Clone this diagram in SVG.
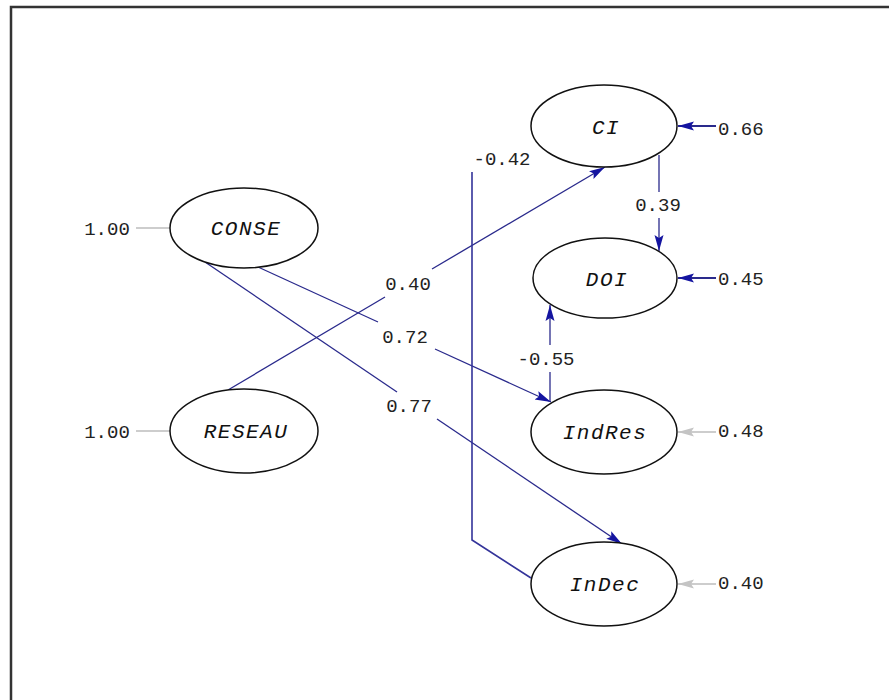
<svg xmlns="http://www.w3.org/2000/svg" width="889" height="700" viewBox="0 0 889 700">
<style>
.node ellipse{fill:#fff;stroke:#111;stroke-width:1.5}
.nl{font-family:"Liberation Mono",monospace;font-style:italic;font-size:21px;letter-spacing:1.5px;fill:#111;text-anchor:middle}
.num{font-family:"Liberation Mono",monospace;font-size:19px;fill:#222}
.mid{text-anchor:middle}
.path{stroke:#2a2a8c;stroke-width:1.3;fill:none}
.grey{stroke:#bdbdbd;stroke-width:1.5;fill:none}
</style>
<defs>
<marker id="ab" markerUnits="userSpaceOnUse" markerWidth="18" markerHeight="12" refX="16" refY="5" orient="auto">
<path d="M0,0.5 L16,5 L0,9.5 L3,5 z" fill="#1414a0"/>
</marker>
<marker id="ag" markerUnits="userSpaceOnUse" markerWidth="18" markerHeight="12" refX="16" refY="5" orient="auto">
<path d="M0,0.5 L16,5 L0,9.5 L3,5 z" fill="#c4c4c4"/>
</marker>
</defs>
<rect width="889" height="700" fill="#fff"/>
<path d="M11,700 V7 H889" fill="none" stroke="#333" stroke-width="2.5"/>

<g id="connectors">
<line class="grey" x1="136" y1="228" x2="170" y2="228" stroke="#aaa"/>
<line class="grey" x1="136" y1="431" x2="170" y2="431"/>
<line class="path" x1="228" y1="390" x2="385" y2="297"/>
<line class="path" x1="432" y1="269" x2="605" y2="167" marker-end="url(#ab)"/>
<line class="path" x1="258" y1="267" x2="378" y2="322"/>
<line class="path" x1="435" y1="349" x2="551" y2="402" marker-end="url(#ab)"/>
<line class="path" x1="205" y1="262" x2="397" y2="392"/>
<line class="path" x1="437" y1="419" x2="622" y2="544" marker-end="url(#ab)"/>
<line class="path" x1="659" y1="155" x2="659" y2="192"/>
<line class="path" x1="659" y1="218" x2="659" y2="251" marker-end="url(#ab)"/>
<line class="path" x1="550" y1="402" x2="550" y2="372"/>
<line class="path" x1="550" y1="345" x2="550" y2="305" marker-end="url(#ab)"/>
<polyline class="path" points="472,172 472,540 531,578" style="stroke:#34349a;stroke-width:1.6"/>
<line class="path" x1="716" y1="126" x2="678" y2="126" marker-end="url(#ab)" style="stroke-width:2"/>
<line class="path" x1="716" y1="278" x2="678" y2="278" marker-end="url(#ab)" style="stroke-width:2"/>
<line class="grey" x1="716" y1="432" x2="678" y2="432" marker-end="url(#ag)"/>
<line class="grey" x1="716" y1="584" x2="678" y2="584" marker-end="url(#ag)"/>
<text class="num mid" x="408" y="290">0.40</text>
<text class="num mid" x="405" y="343">0.72</text>
<text class="num mid" x="409" y="412">0.77</text>
<text class="num mid" x="502" y="165">-0.42</text>
<text class="num mid" x="658" y="211">0.39</text>
<text class="num mid" x="546" y="365">-0.55</text>
<text class="num" x="718" y="135">0.66</text>
<text class="num" x="718" y="285">0.45</text>
<text class="num" x="718" y="437">0.48</text>
<text class="num" x="718" y="589">0.40</text>
<text class="num mid" x="107" y="235">1.00</text>
<text class="num mid" x="107" y="438">1.00</text>
</g>

<g id="CONSE" class="node"><ellipse cx="244" cy="228" rx="74" ry="40"/><text class="nl" x="246" y="235">CONSE</text></g>
<g id="RESEAU" class="node"><ellipse cx="244" cy="431" rx="74" ry="42"/><text class="nl" x="246" y="438">RESEAU</text></g>
<g id="CI" class="node"><ellipse cx="604" cy="126" rx="73" ry="41"/><text class="nl" x="606" y="134">CI</text></g>
<g id="DOI" class="node"><ellipse cx="605" cy="278" rx="72" ry="40"/><text class="nl" x="607" y="286">DOI</text></g>
<g id="IndRes" class="node"><ellipse cx="604" cy="432" rx="73" ry="42"/><text class="nl" x="605" y="439">IndRes</text></g>
<g id="InDec" class="node"><ellipse cx="604" cy="584" rx="73" ry="42"/><text class="nl" x="605" y="591">InDec</text></g>
</svg>
